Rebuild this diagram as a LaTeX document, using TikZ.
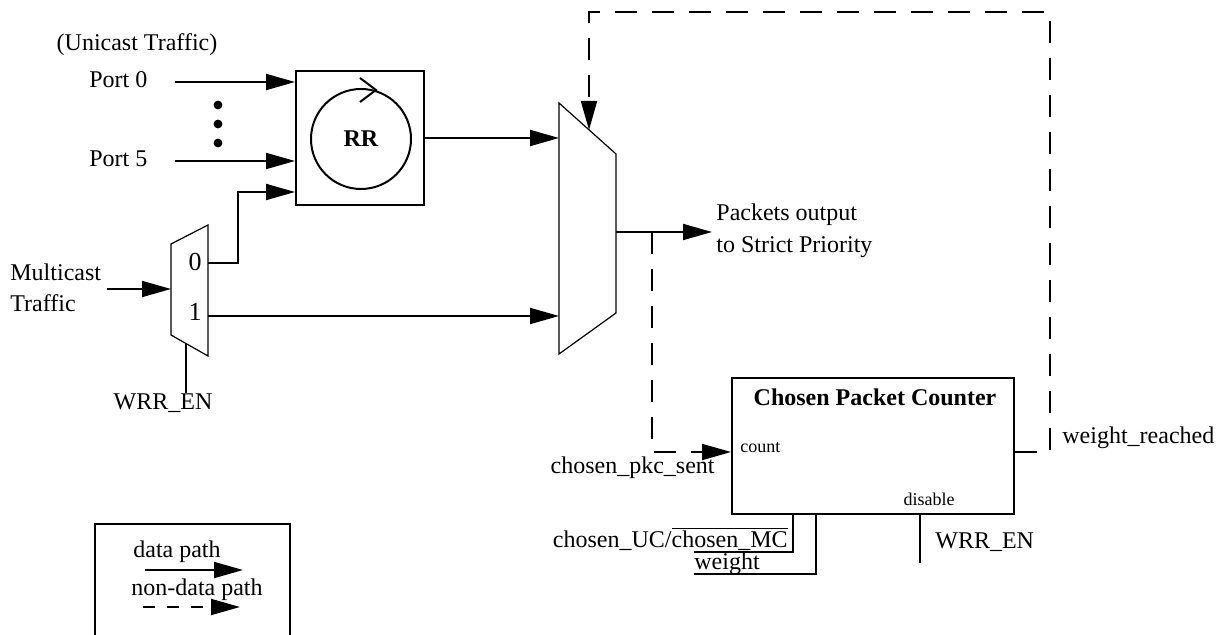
\documentclass[tikz,border=0pt]{standalone}
\usepackage{fontspec}
\setmainfont{Liberation Serif}
\usetikzlibrary{arrows.meta,positioning,calc}

\tikzset{
  wire/.style={line width=1pt},
  data/.style={wire, -{Triangle[length=14.5pt,width=8pt]}},
  ctrl/.style={data, dash pattern=on 11pt off 7.5pt},
  blk/.style={draw, line width=1pt, inner sep=0pt},
  muxline/.style={draw, line width=0.6pt},
  lbl/.style={inner sep=0pt, font=\fontsize{12}{15.5}\selectfont},
  pinlbl/.style={inner sep=0pt, font=\fontsize{9}{11}\selectfont},
}

\begin{document}
\begin{tikzpicture}[x=0.5pt, y=-0.5pt]
  \useasboundingbox (0,0) rectangle (1227,635);

  % round robin arbiter
  \node[blk, minimum width=64pt, minimum height=67pt] (rr) at (360,138) {};
  \node[blk, circle, minimum size=50pt, font=\fontsize{12}{14}\selectfont\bfseries] (rrc) at (361,139) {RR};
  \draw[wire] (360,78) -- (376,90) -- (360,102);

  % unicast ports
  \node[lbl] (uc) at (137,45) {(Unicast Traffic)};
  \node[lbl, anchor=west] (p0) at (89,80) {Port 0};
  \node[lbl, anchor=west] (p5) at (89,159) {Port 5};
  \foreach \y in {105,124,143}
    \fill (218,\y) circle (2.2pt);
  \coordinate (p0in) at (175,82);
  \coordinate (p5in) at (175,161);
  \draw[data] (p0in) -- (p0in -| rr.west);
  \draw[data] (p5in) -- (p5in -| rr.west);

  % multicast demux
  \coordinate (dA) at (171,244);
  \coordinate (dB) at (208,225);
  \coordinate (dC) at (208,356);
  \coordinate (dD) at (171,335);
  \draw[muxline] (dA) -- (dB) -- (dC) -- (dD) -- cycle;
  \node[lbl, font=\fontsize{13}{15}\selectfont] (d0lbl) at (195,262) {0};
  \node[lbl, font=\fontsize{13}{15}\selectfont] (d1lbl) at (195,312) {1};
  \node[lbl, anchor=west, align=left] (mc) at (10,288) {Multicast\\Traffic};
  \coordinate (mcin) at (107,289);
  \draw[data] (mcin) -- (mcin -| dA);
  \coordinate (d0) at (208,263);
  \coordinate (d1) at (208,316);
  \draw[data] (d0) -- ++(30,0) |- ([yshift=7pt]rr.south west);
  \node[lbl] (wrrA) at (163,403) {WRR\_EN};
  \coordinate (dS) at (186,343.5);
  \draw[wire] (dS) -- (dS |- wrrA.north);

  % output mux
  \coordinate (mA) at (559,103);
  \coordinate (mB) at (616,154);
  \coordinate (mC) at (616,313);
  \coordinate (mD) at (559,354);
  \draw[muxline] (mA) -- (mB) -- (mC) -- (mD) -- cycle;
  \coordinate (msel) at (589,130);
  \draw[data] (rr.east) -- (rr.east -| mA);
  \draw[data] (d1) -- (d1 -| mA);
  \coordinate (mo) at (616,232);
  \coordinate (pkt) at (712,232);
  \draw[data] (mo) -- (pkt);
  \node[lbl, anchor=west, align=left, font=\fontsize{12}{16}\selectfont] (pk) at (716,231) {Packets output\\to Strict Priority};

  % chosen packet counter
  \node[blk, minimum width=141pt, minimum height=68pt] (cnt) at (873,446) {};
  \node[lbl, font=\fontsize{12}{14}\selectfont\bfseries] (cnttl) at (875,397) {Chosen Packet Counter};
  \node[pinlbl, anchor=west] (cntin) at (740,448) {count};
  \node[pinlbl] (dis) at (929,499) {disable};
  \node[lbl, anchor=east] (pkc) at (715,468) {chosen\_pkc\_sent};
  \node[lbl, anchor=west] (wr) at (1062,438) {weight\_reached};
  \node[lbl, anchor=west] (wrrB) at (935,542) {WRR\_EN};
  \node[lbl, anchor=east] (ucmc) at (788,539) {chosen\_UC/\(\overline{\mbox{chosen\_MC}}\)};
  \node[lbl, anchor=west] (wgt) at (694,564) {weight};
  \coordinate (ucmcw) at (694,552);
  \coordinate (wgtw) at (694,574);
  \draw[wire] ([xshift=-40pt]cnt.south) |- (ucmcw);
  \draw[wire] ([xshift=-28.5pt]cnt.south) |- (wgtw);
  \draw[wire] ([xshift=23.5pt]cnt.south) -- ++(0,48);

  % feedback paths
  \coordinate (tap) at (652,232);
  \coordinate (fbR) at (1050,12);
  \draw[ctrl] (tap) |- ([yshift=-3pt]cnt.west);
  \draw[ctrl] ([yshift=-3pt]cnt.east) -| (fbR) -| (msel);

  % legend
  \draw[wire] (95,650) |- (290,524) -- (290,650);
  \node[lbl] (lgd) at (177,552) {data path};
  \node[lbl] (lgn) at (197,590) {non-data path};
  \coordinate (lgdA) at (145,570);
  \coordinate (lgnA) at (143,607);
  \draw[data] (lgdA) -- ++(98,0);
  \draw[data, dash pattern=on 6pt off 6pt] (lgnA) -- ++(97,0);
\end{tikzpicture}
\end{document}
